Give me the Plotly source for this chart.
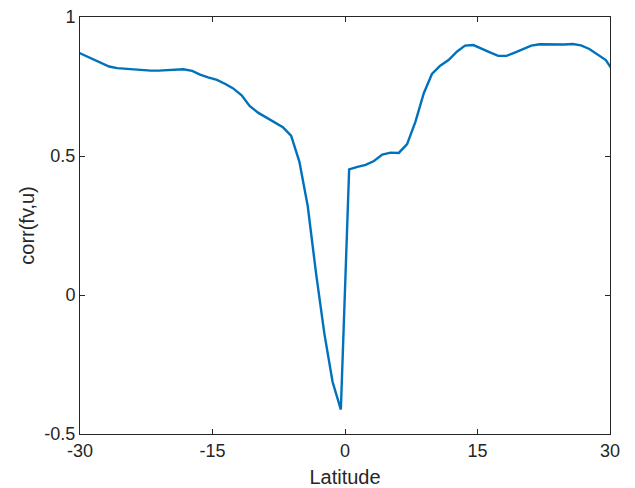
import plotly.graph_objects as go

lat = [-30.5, -29.5, -28.6, -27.6, -26.7, -25.8, -24.8, -23.9, -22.9, -22.0, -21.1, -20.1,
       -19.2, -18.3, -17.3, -16.4, -15.5, -14.5, -13.6, -12.7, -11.7, -10.8, -9.8, -8.9,
       -7.97, -7.03, -6.09, -5.16, -4.22, -3.28, -2.34, -1.41, -0.47,
       0.47, 1.41, 2.34, 3.28, 4.22, 5.16, 6.09, 7.03, 7.97, 8.91, 9.84, 10.78, 11.72,
       12.66, 13.59, 14.53, 15.47, 16.41, 17.34, 18.28, 19.22, 20.16, 21.09, 22.03,
       22.97, 23.91, 24.84, 25.78, 26.72, 27.66, 28.59, 29.53, 30.47]
corr = [0.877, 0.862, 0.848, 0.834, 0.822, 0.816, 0.813, 0.811, 0.809, 0.807, 0.807, 0.808,
        0.811, 0.812, 0.806, 0.793, 0.783, 0.774, 0.760, 0.744, 0.718, 0.680, 0.655, 0.638,
        0.621, 0.604, 0.572, 0.479, 0.320, 0.079, -0.138, -0.312, -0.412,
        0.452, 0.461, 0.468, 0.482, 0.505, 0.512, 0.511, 0.543, 0.623, 0.725, 0.795, 0.825, 0.845,
        0.875, 0.897, 0.899, 0.887, 0.873, 0.860, 0.860, 0.872, 0.886, 0.897, 0.902,
        0.901, 0.900, 0.901, 0.903, 0.898, 0.885, 0.866, 0.845, 0.800]

xticks = [-30, -15, 0, 15, 30]
xticklabels = ["-30", "-15", "0", "15", "30"]
yticks = [-0.5, 0, 0.5, 1]
yticklabels = ["-0.5", "0", "0.5", "1"]

FONT = "Liberation Sans, Arial, Helvetica, sans-serif"
fig = go.Figure()
fig.add_trace(go.Scatter(x=lat, y=corr, mode="lines",
                         line=dict(color="#0072BD", width=2.4), showlegend=False))

axis_common = dict(
    showgrid=False, zeroline=False, showline=True, linecolor="#262626", linewidth=1,
    mirror="ticks", ticks="inside", ticklen=5, tickcolor="#262626", tickwidth=1,
    tickfont=dict(family=FONT, size=18, color="#262626"), automargin=False,
)
fig.update_xaxes(range=[-30, 30], tickvals=xticks, ticktext=xticklabels,
                 title=dict(text="Latitude", standoff=14,
                            font=dict(family=FONT, size=20, color="#262626")),
                 **axis_common)
fig.update_yaxes(range=[-0.5, 1], tickvals=yticks, ticktext=yticklabels,
                 title=dict(text="corr(fv,u)", standoff=4,
                            font=dict(family=FONT, size=20, color="#262626")),
                 **axis_common)
fig.update_layout(width=635, height=488, margin=dict(l=80, r=25, t=17, b=54),
                  paper_bgcolor="white", plot_bgcolor="white")
fig.write_html("out.html")
